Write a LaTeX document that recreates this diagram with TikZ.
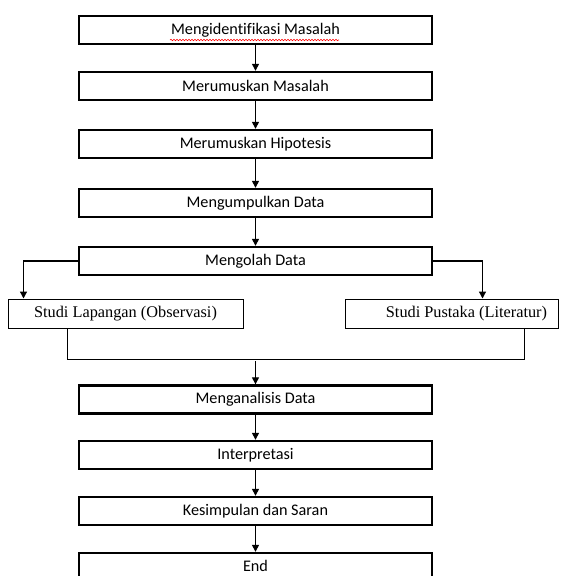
\documentclass[tikz,border=0pt]{standalone}
\usepackage{fontspec}
\setmainfont{Carlito}[Ligatures=CommonOff]
\newfontfamily\timesf{Liberation Serif}
\usetikzlibrary{arrows.meta,decorations.pathmorphing}
\begin{document}
\begin{tikzpicture}[x=1pt,y=-1pt,
  mainbox/.style={draw,line width=2.4pt,minimum width=353pt,minimum height=28pt,inner sep=0pt,font=\fontsize{16.2}{18}\selectfont},
  sidebox/.style={draw,line width=1pt,minimum height=29pt,inner sep=0pt,font=\timesf\fontsize{16.3}{18}\selectfont},
  conn/.style={line width=1.3pt,-{Triangle[width=7pt,length=7pt]}},
  joinline/.style={line width=1pt}]
\useasboundingbox (0,0) rectangle (560,576);
\clip (0,0) rectangle (560,576);
\fill[white] (0,0) rectangle (560,576);
\node[mainbox] (b1) at (255.5,30) {Mengidentifikasi Masalah};
\node[mainbox] (b2) at (255.5,86) {Merumuskan Masalah};
\node[mainbox] (b3) at (255.5,144) {Merumuskan Hipotesis};
\node[mainbox] (b4) at (255.5,203) {Mengumpulkan Data};
\node[mainbox] (b5) at (255.5,261) {Mengolah Data};
\node[sidebox,minimum width=235pt] (s1) at (125.5,313.5) {Studi Lapangan (Observasi)};
\node[sidebox,minimum width=213pt] (s2) at (451.5,313.5) {\hspace*{30pt}Studi Pustaka (Literatur)};
\node[mainbox] (b6) at (255.5,399.5) {Menganalisis Data};
\node[mainbox] (b7) at (255.5,455) {Interpretasi};
\node[mainbox] (b8) at (255.5,511) {Kesimpulan dan Saran};
\node[mainbox,minimum height=36pt] (b9) at (255.5,571) {};
\node[font=\fontsize{16.2}{18}\selectfont] (t9) at (255.5,566) {End};
\draw[red,line width=0.6pt,decorate,decoration={snake,amplitude=0.7pt,segment length=3pt}] (170,40) -- (339,40);
\draw[conn] (b1) -- (b2);
\draw[conn] (b2) -- (b3);
\draw[conn] (b3) -- (b4);
\draw[conn] (b4) -- (b5);
\draw[conn] (b5.west) -| ([xshift=16pt]s1.north west);
\draw[conn] (b5.east) -| ([xshift=138pt]s2.north west);
\draw[joinline] ([xshift=60pt]s1.south west) -- ++(0,31) -| ([xshift=-34pt]s2.south east);
\coordinate (j) at (255.5,361);
\draw[conn] (j) -- (b6.north);
\draw[conn] (b6) -- (b7);
\draw[conn] (b7) -- (b8);
\draw[conn] (b8) -- (b9);
\end{tikzpicture}
\end{document}
